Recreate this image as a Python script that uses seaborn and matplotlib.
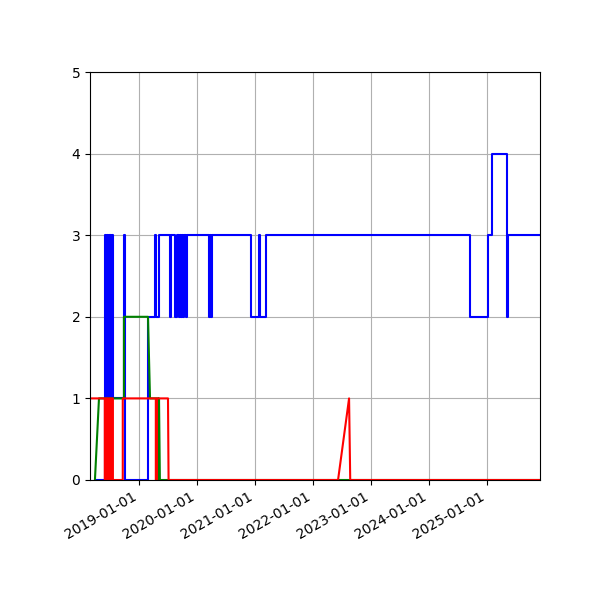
import matplotlib
matplotlib.use("Agg")
import matplotlib.pyplot as plt
import matplotlib.dates as mdates
import seaborn as sns
import pandas as pd
import numpy as np

# decimal-year times and values (explicit points; repeated t = vertical step)
blue_t = [2018.26, 2018.41, 2018.41, 2018.43, 2018.43, 2018.45, 2018.45, 2018.47, 2018.47, 2018.48, 2018.48,
          2018.52, 2018.52, 2018.53, 2018.53, 2018.55, 2018.55, 2018.74, 2018.74, 2018.76, 2018.76,
          2019.155, 2019.155, 2019.28, 2019.28, 2019.29, 2019.29, 2019.345, 2019.345, 2019.53, 2019.53,
          2019.55, 2019.55, 2019.62, 2019.62, 2019.655, 2019.655, 2019.69, 2019.69, 2019.71, 2019.71,
          2019.72, 2019.72, 2019.74, 2019.74, 2019.76, 2019.76, 2019.78, 2019.78, 2019.81, 2019.81,
          2019.83, 2019.83, 2020.21, 2020.21, 2020.22, 2020.22, 2020.24, 2020.24, 2020.26, 2020.26,
          2020.93, 2020.93, 2021.07, 2021.07, 2021.09, 2021.09, 2021.19, 2021.19, 2024.71, 2024.71,
          2025.02, 2025.02, 2025.09, 2025.09, 2025.345, 2025.345, 2025.36, 2025.36, 2025.95]
blue_v = [0, 0, 3, 3, 0, 0, 3, 3, 1, 1, 3,
          3, 0, 0, 3, 3, 1, 1, 3, 3, 0,
          0, 2, 2, 3, 3, 2, 2, 3, 3, 2,
          2, 3, 3, 2, 2, 3, 3, 2, 2, 3,
          3, 2, 2, 3, 3, 2, 2, 3, 3, 2,
          2, 3, 3, 2, 2, 3, 3, 2, 2, 3,
          3, 2, 2, 3, 3, 2, 2, 3, 3, 2,
          2, 3, 3, 4, 4, 2, 2, 3, 3]

green_t = [2018.24, 2018.31, 2018.74, 2018.74, 2019.155, 2019.19, 2019.33, 2019.33, 2019.345, 2019.36, 2025.95]
green_v = [0, 1, 1, 2, 2, 1, 1, 0, 1, 0, 0]

red_t = [2018.155, 2018.41, 2018.41, 2018.43, 2018.43, 2018.45, 2018.45, 2018.47, 2018.47, 2018.50, 2018.50,
         2018.52, 2018.52, 2018.55, 2018.55, 2018.72, 2018.72, 2018.74, 2018.74, 2019.29, 2019.29, 2019.31, 2019.31,
         2019.50, 2019.51, 2022.43, 2022.62, 2022.64, 2025.95]
red_v = [1, 1, 0, 0, 1, 1, 0, 0, 1, 1, 0,
         0, 1, 1, 0, 0, 1, 1, 1, 1, 0, 0, 1,
         1, 0, 0, 1, 0, 0]

def to_dates(ts):
    ts = np.asarray(ts)
    yrs = np.floor(ts).astype(int)
    out = []
    for t, y in zip(ts, yrs):
        start = pd.Timestamp(year=int(y), month=1, day=1)
        end = pd.Timestamp(year=int(y) + 1, month=1, day=1)
        out.append(start + (end - start) * (t - y))
    return out

fig, ax = plt.subplots(figsize=(6, 6), dpi=100)
fig.subplots_adjust(left=0.15, right=0.9, bottom=0.2, top=0.88)
for t, v, c in [(blue_t, blue_v, "blue"), (green_t, green_v, "green"), (red_t, red_v, "red")]:
    df = pd.DataFrame({"date": to_dates(t), "value": v})
    sns.lineplot(data=df, x="date", y="value", ax=ax, color=c, sort=False, estimator=None, linewidth=1.5)

ax.set_xlim(to_dates([2018.155])[0], to_dates([2025.91])[0])
ax.set_ylim(0, 5)
ax.set_xlabel("")
ax.set_ylabel("")
ax.xaxis.set_major_locator(mdates.YearLocator())
ax.xaxis.set_major_formatter(mdates.DateFormatter("%Y-%m-%d"))
ax.grid(True, color="#b0b0b0", linewidth=0.8)
fig.autofmt_xdate()
fig.savefig("out.png")
